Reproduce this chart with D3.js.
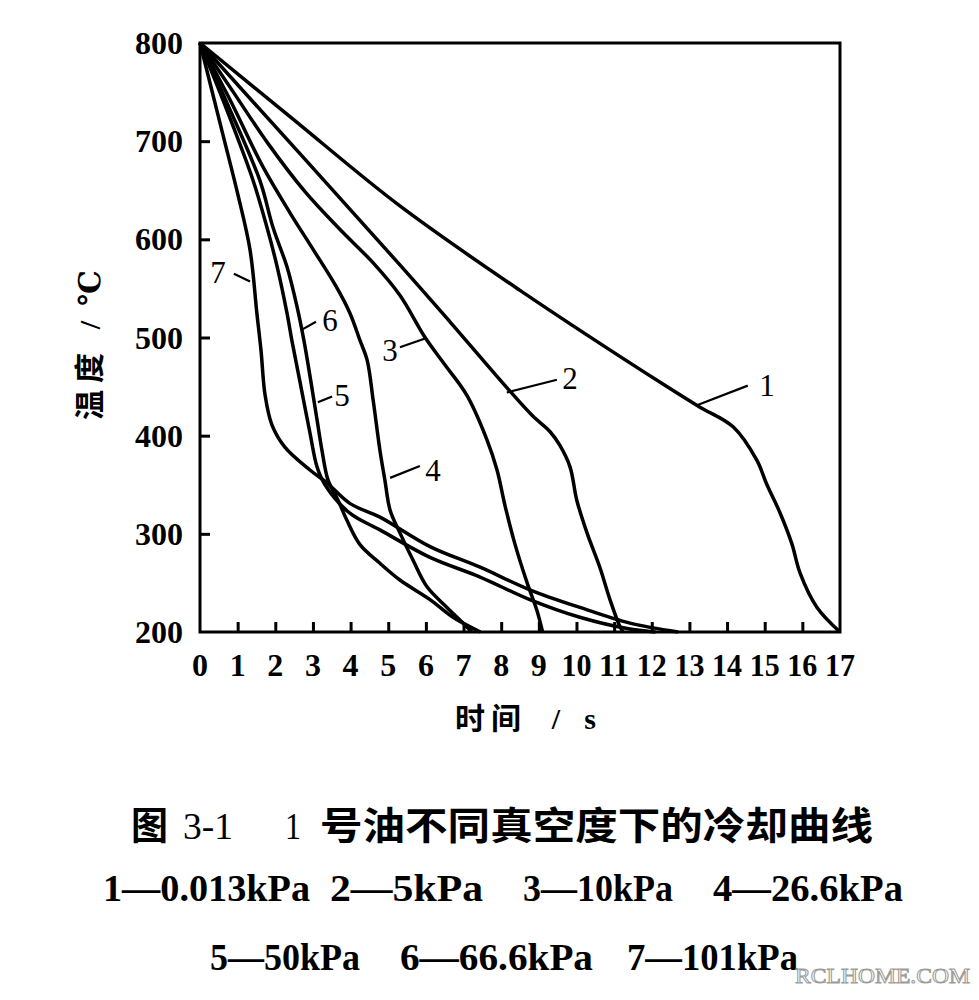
<!DOCTYPE html>
<html>
<head>
<meta charset="utf-8">
<script src="https://cdn.jsdelivr.net/npm/d3@7"></script>
<style>
  body { margin: 0; background: #fff; }
  svg { display: block; }
</style>
</head>
<body>
<svg id="chart"></svg>
<script>
// cooling curves of oil no.1 under different vacuum levels
const times1 = [0, 2.39, 5.31, 8.5, 12.4, 13.28, 14.16, 14.79, 15.06, 15.4, 15.72, 15.94, 16.39, 17];
const temps1 = [800, 725, 634, 548, 450, 429, 409, 375, 350, 322, 290, 260, 225, 200];

const times2 = [0, 5.31, 6.64, 8.15, 8.84, 9.3, 9.56, 9.83, 10.01, 10.28, 10.62, 10.89, 11.16, 11.24];
const temps2 = [800, 574, 516, 449, 420, 404, 390, 368, 334, 301, 266, 233, 205, 200];

const times3 = [0, 0.85, 1.8, 2.8, 3.72, 4.6, 5.31, 5.98, 6.51, 7.09, 7.62, 7.89, 8.1, 8.37, 8.69, 8.95, 9.1];
const temps3 = [800, 752, 698, 648, 610, 576, 543, 500, 472, 441, 396, 365, 329, 289, 250, 222, 200];

const times4 = [0, 0.8, 1.67, 2.39, 3.0, 3.6, 3.98, 4.25, 4.44, 4.6, 4.78, 4.91, 5.05, 5.31, 5.66, 6.03, 6.56, 6.99, 7.22];
const temps4 = [800, 742, 674, 627, 590, 553, 525, 497, 477, 436, 385, 355, 324, 301, 273, 246, 225, 209, 200];

const times5 = [0, 0.74, 1.59, 1.94, 2.31, 2.58, 2.76, 2.95, 3.11, 3.24, 3.4, 3.67, 3.9, 4.25, 4.78, 5.31, 6.11, 6.72, 7.45];
const temps5 = [800, 737, 660, 612, 572, 531, 497, 454, 416, 385, 355, 334, 314, 289, 270, 253, 233, 215, 200];

const times6 = [0, 0.66, 1.41, 1.78, 2.05, 2.31, 2.44, 2.66, 2.92, 3.11, 3.32, 3.98, 4.78, 6.11, 7.44, 8.76, 10.09, 11.42, 12.1];
const temps6 = [800, 737, 660, 612, 572, 525, 497, 454, 403, 368, 350, 321, 304, 276, 256, 233, 215, 203, 200];

const times7 = [0, 0.58, 1.01, 1.33, 1.51, 1.62, 1.73, 1.91, 2.26, 2.92, 3.37, 3.98, 4.78, 6.11, 7.44, 8.76, 10.09, 11.42, 12.7];
const temps7 = [800, 711, 645, 589, 525, 487, 441, 411, 388, 365, 352, 331, 317, 287, 266, 243, 225, 209, 200];

const curveTimes = [times1, times2, times3, times4, times5, times6, times7];
const curveTemps = [temps1, temps2, temps3, temps4, temps5, temps6, temps7];

// curve number labels: text spot and leader line, in data units
const labelText = ['1', '2', '3', '4', '5', '6', '7'];
const labelAt = [[15.06, 452], [9.83, 459], [5.05, 487], [6.19, 365], [3.77, 441], [3.45, 518], [0.48, 567]];
const leaderFrom = [[14.55, 451], [9.48, 457], [5.31, 490], [5.84, 369], [3.51, 440], [3.08, 516], [0.9, 565]];
const leaderTo = [[13.2, 431], [8.15, 444], [5.98, 499], [5.05, 357], [3.13, 434], [2.71, 508], [1.33, 557]];

const xTicks = d3.range(0, 18);
const yTicks = [200, 300, 400, 500, 600, 700, 800];

const xTitleParts = ['时间', '/', 's'];
const yTitleParts = ['温度', '/', '℃'];
const caption1Parts = ['图', '3-1', '1', '号油不同真空度下的冷却曲线'];
const caption2Parts = ['1—0.013kPa', '2—5kPa', '3—10kPa', '4—26.6kPa'];
const caption3Parts = ['5—50kPa', '6—66.6kPa', '7—101kPa'];

const W = 979, H = 1000;
const svg = d3.select('#chart').attr('width', W).attr('height', H);
const serif = '"Liberation Serif", "DejaVu Serif", "Noto Sans CJK SC", serif';

const x = d3.scaleLinear().domain([0, 17]).range([200, 840]);
const y = d3.scaleLinear().domain([200, 800]).range([632, 43]);

// frame
svg.append('rect')
  .attr('x', x(0)).attr('y', y(800))
  .attr('width', x(17) - x(0)).attr('height', y(200) - y(800))
  .attr('fill', 'none').attr('stroke', '#000').attr('stroke-width', 3);

// inward ticks
svg.append('g')
  .attr('transform', `translate(0,${y(200)})`)
  .call(d3.axisBottom(x).tickValues(xTicks.slice(1, -1)).tickSizeInner(-10).tickSizeOuter(0).tickFormat(''))
  .call((g) => g.select('.domain').remove())
  .call((g) => g.selectAll('line').attr('stroke-width', 3));
svg.append('g')
  .attr('transform', `translate(${x(0)},0)`)
  .call(d3.axisLeft(y).tickValues(yTicks.slice(1, -1)).tickSizeInner(-10).tickSizeOuter(0).tickFormat(''))
  .call((g) => g.select('.domain').remove())
  .call((g) => g.selectAll('line').attr('stroke-width', 3));

// tick labels
svg.append('g').selectAll('text')
  .data(xTicks)
  .join('text')
  .attr('x', (d) => x(d))
  .attr('y', 676)
  .attr('text-anchor', 'middle')
  .attr('font-family', serif)
  .attr('font-weight', 'bold')
  .attr('font-size', 32)
  .attr('textLength', (d) => (d >= 10 ? 30 : null))
  .attr('lengthAdjust', 'spacingAndGlyphs')
  .text((d) => d);

svg.append('g').selectAll('text')
  .data(yTicks)
  .join('text')
  .attr('x', 183)
  .attr('y', (d) => y(d) + 11)
  .attr('text-anchor', 'end')
  .attr('font-family', serif)
  .attr('font-weight', 'bold')
  .attr('font-size', 32)
  .text((d) => d);

// axis titles, piece by piece
const xTitleX = [455, 556, 590];
svg.append('g').selectAll('text')
  .data(xTitleParts)
  .join('text')
  .attr('x', (_, i) => xTitleX[i])
  .attr('y', 729)
  .attr('text-anchor', (_, i) => (i === 0 ? 'start' : 'middle'))
  .attr('font-family', serif)
  .attr('font-weight', 'bold')
  .attr('font-size', 30)
  .attr('textLength', (_, i) => (i === 0 ? 66 : null))
  .attr('lengthAdjust', 'spacing')
  .text((d) => d);

const yTitleY = [420, 325, 288];
svg.append('g')
  .attr('transform', 'translate(100,0) rotate(-90)')
  .selectAll('text')
  .data(yTitleParts)
  .join('text')
  .attr('x', (_, i) => -yTitleY[i])
  .attr('y', 0)
  .attr('text-anchor', (_, i) => (i === 0 ? 'start' : 'middle'))
  .attr('font-family', serif)
  .attr('font-weight', 'bold')
  .attr('font-size', 30)
  .attr('textLength', (_, i) => (i === 0 ? 67 : null))
  .attr('lengthAdjust', 'spacing')
  .text((d) => d);

// the seven curves
const line = d3.line()
  .x((d) => x(d[0]))
  .y((d) => y(d[1]))
  .curve(d3.curveCatmullRom.alpha(0.5));

svg.append('g').selectAll('path')
  .data(curveTimes.map((ts, i) => ts.map((t, j) => [t, curveTemps[i][j]])))
  .join('path')
  .attr('d', line)
  .attr('fill', 'none')
  .attr('stroke', '#000')
  .attr('stroke-width', 3.5)
  .attr('stroke-linejoin', 'round');

// curve labels with leaders
const labels = svg.append('g');
labels.selectAll('line')
  .data(labelText)
  .join('line')
  .attr('x1', (_, i) => x(leaderFrom[i][0]))
  .attr('y1', (_, i) => y(leaderFrom[i][1]))
  .attr('x2', (_, i) => x(leaderTo[i][0]))
  .attr('y2', (_, i) => y(leaderTo[i][1]))
  .attr('stroke', '#000')
  .attr('stroke-width', 2.2);
labels.selectAll('text')
  .data(labelText)
  .join('text')
  .attr('x', (_, i) => x(labelAt[i][0]))
  .attr('y', (_, i) => y(labelAt[i][1]) + 11)
  .attr('text-anchor', 'middle')
  .attr('font-family', serif)
  .attr('font-size', 31)
  .text((d) => d);

// caption, placed piece by piece
function captionRow(parts, xs, lens, baseline, size, weights) {
  svg.append('g').selectAll('text')
    .data(parts)
    .join('text')
    .attr('x', (_, i) => xs[i])
    .attr('y', baseline)
    .attr('font-family', serif)
    .attr('font-weight', (_, i) => (weights ? weights[i] : 'bold'))
    .attr('font-size', size)
    .attr('textLength', (_, i) => lens[i])
    .attr('lengthAdjust', 'spacingAndGlyphs')
    .text((d) => d);
}
captionRow(caption1Parts, [131, 183, 285, 320], [37, 50, 16, 553], 839, 38,
  ['bold', 'normal', 'normal', 'bold']);
captionRow(caption2Parts, [103, 330, 523, 713], [207, 153, 150, 190], 901, 38);
captionRow(caption3Parts, [210, 400, 627], [150, 193, 171], 970, 38);

// watermark
svg.append('text')
  .attr('x', 795).attr('y', 983)
  .attr('font-family', serif)
  .attr('font-size', 22)
  .attr('textLength', 175)
  .attr('lengthAdjust', 'spacingAndGlyphs')
  .attr('fill', '#fff')
  .attr('stroke', '#9a9a9a')
  .attr('stroke-width', 1)
  .text('RCLHOME.COM');
</script>
</body>
</html>
